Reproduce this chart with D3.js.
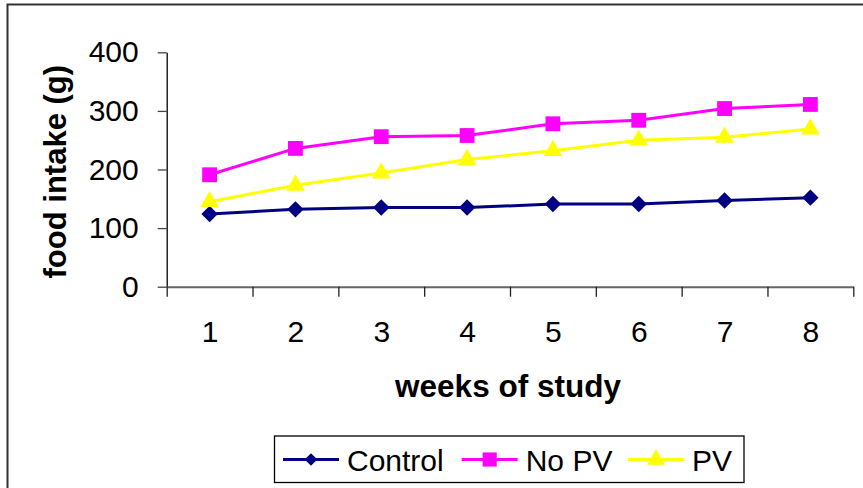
<!DOCTYPE html>
<html>
<head>
<meta charset="utf-8">
<script src="https://cdn.jsdelivr.net/npm/d3@7"></script>
<style>
  body { margin: 0; background: #fff; }
  text { font-family: "Liberation Sans", Arial, sans-serif; }
</style>
</head>
<body>
<div id="chart"></div>
<script>
var svgWidth = 863;
var svgHeight = 488;

// data
var weeks = [1, 2, 3, 4, 5, 6, 7, 8];
var control = [124, 132, 135, 135, 141, 141, 147, 152];
var noPV = [191, 236, 256, 258, 278, 284, 304, 311];
var pv = [145, 173, 194, 217, 232, 250, 255, 269];
var yTicks = [0, 100, 200, 300, 400];

// diamond = square turned 45 degrees
var series = [
  { name: "Control", values: control, color: "#000080", symbol: d3.symbolSquare, rotate: 45, size: 135, legendSize: 80 },
  { name: "No PV", values: noPV, color: "#FF00FF", symbol: d3.symbolSquare, rotate: 0, size: 220, legendSize: 200 },
  { name: "PV", values: pv, color: "#FFFF00", symbol: d3.symbolTriangle, rotate: 0, size: 150, legendSize: 140 }
];

var plot = { left: 166.7, right: 853.3, top: 52.3, bottom: 286.7 };

var svg = d3.select("#chart")
  .append("svg")
  .attr("width", svgWidth)
  .attr("height", svgHeight);

// outer frame
svg.append("rect")
  .attr("x", 7.5)
  .attr("y", 4.5)
  .attr("width", 900)
  .attr("height", 520)
  .attr("fill", "none")
  .attr("stroke", "#333")
  .attr("stroke-width", 2);

var xScale = d3.scaleLinear()
  .domain([0.5, 8.5])
  .range([plot.left, plot.right]);

var yScale = d3.scaleLinear()
  .domain([0, 400])
  .range([plot.bottom, plot.top]);

// y axis
var yAxis = svg.append("g")
  .attr("transform", `translate(${plot.left}, 0)`)
  .call(d3.axisLeft(yScale).tickValues(yTicks).tickSize(9).tickPadding(19).tickSizeOuter(0));
yAxis.select(".domain").attr("stroke", "#000").attr("stroke-width", 1.3);
yAxis.selectAll(".tick line").attr("stroke", "#444").attr("stroke-width", 1.3);
yAxis.selectAll("text").attr("font-size", 30).attr("fill", "#000");

// x axis: boundary ticks
var boundaries = d3.range(0.5, 9, 1);
var xAxis = svg.append("g")
  .attr("transform", `translate(0, ${plot.bottom})`)
  .call(d3.axisBottom(xScale).tickValues(boundaries).tickFormat("").tickSize(10).tickSizeOuter(0));
xAxis.select(".domain").attr("stroke", "#666").attr("stroke-width", 2);
xAxis.selectAll(".tick line").attr("stroke", "#222").attr("stroke-width", 1.3);

// x axis labels at week centres
var xLabels = svg.append("g")
  .attr("transform", `translate(0, ${plot.bottom})`)
  .call(d3.axisBottom(xScale).tickValues(weeks).tickSize(0).tickPadding(34));
xLabels.select(".domain").remove();
xLabels.selectAll("text").attr("font-size", 30).attr("fill", "#000");

// axis titles
svg.append("text")
  .attr("x", 508)
  .attr("y", 397)
  .attr("text-anchor", "middle")
  .attr("font-size", 31.5)
  .attr("font-weight", "bold")
  .text("weeks of study");

svg.append("text")
  .attr("transform", "translate(66, 171.7) rotate(-90)")
  .attr("text-anchor", "middle")
  .attr("font-size", 31)
  .attr("font-weight", "bold")
  .text("food intake (g)");

// lines and markers
var line = d3.line()
  .x((d, i) => xScale(weeks[i]))
  .y(d => yScale(d));

series.forEach(function(s) {
  svg.append("path")
    .datum(s.values)
    .attr("fill", "none")
    .attr("stroke", s.color)
    .attr("stroke-width", 3)
    .attr("d", line);

  svg.selectAll(null)
    .data(s.values)
    .enter()
    .append("path")
    .attr("transform", (d, i) => `translate(${xScale(weeks[i])}, ${yScale(d)}) rotate(${s.rotate})`)
    .attr("d", d3.symbol().type(s.symbol).size(s.size))
    .attr("fill", s.color);
});

// legend
var legend = svg.append("g");
legend.append("rect")
  .attr("x", 274.5)
  .attr("y", 436)
  .attr("width", 469.5)
  .attr("height", 46.5)
  .attr("fill", "#fff")
  .attr("stroke", "#000")
  .attr("stroke-width", 1.3);

var legendX = [283, 461.7, 628];
series.forEach(function(s, i) {
  var g = legend.append("g").attr("transform", `translate(${legendX[i]}, 459.5)`);
  g.append("line")
    .attr("x1", 0).attr("x2", 56)
    .attr("stroke", s.color)
    .attr("stroke-width", 3);
  g.append("path")
    .attr("transform", `translate(28, 0) rotate(${s.rotate})`)
    .attr("d", d3.symbol().type(s.symbol).size(s.legendSize))
    .attr("fill", s.color);
  g.append("text")
    .attr("x", 64)
    .attr("y", 11)
    .attr("font-size", 30)
    .text(s.name);
});
</script>
</body>
</html>
